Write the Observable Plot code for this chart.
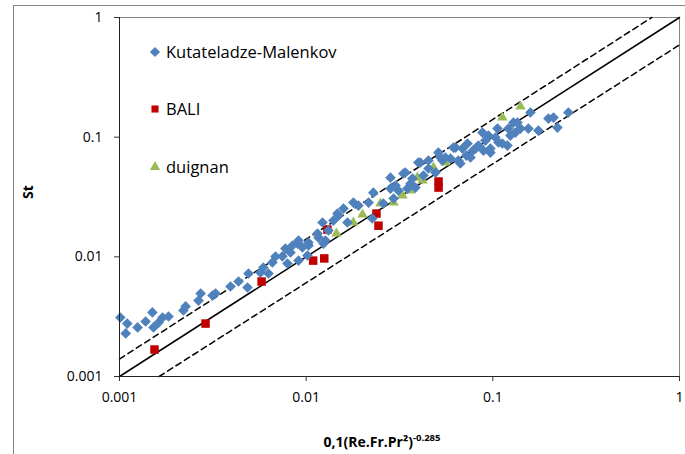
<!DOCTYPE html>
<html><head><meta charset="utf-8">
<script src="https://cdn.jsdelivr.net/npm/d3@7"></script>
<script src="https://cdn.jsdelivr.net/npm/@observablehq/plot@0.6"></script>
<style>
html,body{margin:0;padding:0;background:#fff;}
#chart{width:685px;height:454px;overflow:hidden;}
svg{display:block;}
</style></head><body><div id="chart"></div>
<script>
// ---- data ----
const seriesNames = ["Kutateladze-Malenkov", "BALI", "duignan"];
const seriesColors = ["#4F81BD", "#C00000", "#9BBB59"];

const kmX = [0.00101,0.00110,0.00108,0.00125,0.00138,0.00150,0.00152,0.00162,0.00170,0.00183,
  0.00220,0.00226,0.00265,0.00272,0.00315,0.00327,0.00434,0.00485,0.00491,0.00569,
  0.00590,0.00628,0.00685,0.00746,0.00774,0.00794,0.00898,0.00910,0.01016,0.01028,
  0.01164,0.01238,0.01223,0.01316,0.01471,0.01150,0.01400,0.01664,0.01791,0.0216,
  0.0226,0.0229,0.0259,0.0283,0.0283,0.0294,0.0312,0.0332,0.0362,0.0371,
  0.0385,0.0409,0.0425,0.0493,0.0511,0.0524,0.0593,0.0631,0.0688,0.0670,
  0.0731,0.0340,0.0349,0.0399,0.0452,0.0537,0.0557,0.0615,0.0654,0.0759,
  0.0807,0.0837,0.0880,0.0947,0.0971,0.1059,0.1072,0.1125,0.1197,0.1213,
  0.1242,0.1355,0.1321,0.159,0.155,0.1754,0.1986,0.2113,0.2218,0.254,
  0.0912,0.0971,0.1289,0.0149,0.01268,0.0103,0.0091,0.00845,0.078,
  0.01585,0.01905,0.0301,0.0452,0.0722,0.0891,0.1033,0.1406,0.00393,0.00659,0.00824,0.00955];
const kmY = [0.00311,0.00277,0.00229,0.00257,0.00288,0.00343,0.00257,0.00282,0.00311,0.00317,
  0.00356,0.00385,0.00431,0.00494,0.00475,0.00494,0.00622,0.00554,0.00725,0.00739,
  0.00814,0.00725,0.01007,0.0101,0.01173,0.00879,0.01291,0.00931,0.01026,0.01316,
  0.01449,0.01291,0.01936,0.0166,0.0230,0.01566,0.0201,0.01936,0.0284,0.0284,
  0.0209,0.0344,0.0279,0.0459,0.0372,0.0307,0.0358,0.0497,0.0409,0.0451,
  0.0379,0.0614,0.0478,0.0506,0.0743,0.0676,0.0662,0.0818,0.0803,0.0602,
  0.0885,0.0506,0.0372,0.0614,0.0547,0.0638,0.0676,0.0818,0.0638,0.0676,
  0.0803,0.0851,0.1092,0.1031,0.0803,0.118,0.0902,0.0885,0.0851,0.118,
  0.1031,0.1324,0.1092,0.1606,0.118,0.1135,0.143,0.1458,0.1203,0.1606,
  0.0937,0.0743,0.1324,0.0221,0.01368,0.01243,0.01368,0.01243,0.077,
  0.0253,0.0268,0.0394,0.0638,0.0702,0.0773,0.0993,0.118,0.00565,0.00896,0.01086,0.01196];

const baliX = [0.00154,0.00289,0.00577,0.0109,0.0125,0.013,0.0238,0.0244,0.0512,0.0512];
const baliY = [0.00168,0.00277,0.00622,0.0093,0.0097,0.0169,0.023,0.0182,0.0426,0.0379];

const duigX = [0.01453,0.0179,0.02003,0.025,0.0294,0.0328,0.0362,0.0394,0.042,0.0481,0.0557,0.1125,0.1406];
const duigY = [0.01566,0.01936,0.02256,0.0279,0.0284,0.0325,0.0358,0.0459,0.0434,0.0557,0.0614,0.1458,0.1803];

// reference lines (end points)
const solidX = [0.001, 1], solidY = [0.001, 1];
const upperX = [0.001, 0.71], upperY = [0.0014, 1];
const lowerX = [0.00163, 1], lowerY = [0.001, 0.59];

const tickValues = [0.001, 0.01, 0.1, 1];
const tickLabels = ["0.001", "0.01", "0.1", "1"];

const xTitle = "0,1(Re.Fr.Pr²)";
const xTitleSup = "-0.285";
const yTitle = "St";

// ---- build tables ----
const zip = (xs, ys) => xs.map((x, i) => ({x, y: ys[i]}));
const km = zip(kmX, kmY), bali = zip(baliX, baliY), duig = zip(duigX, duigY);
const fmt = d => tickLabels[tickValues.indexOf(d)];

const font = "'Open Sans', sans-serif";
const rKm = 4.8, rBali = 4.8, rDuig = 3.9;
const plot = Plot.plot({
  width: 685, height: 454,
  marginLeft: 119, marginRight: 6, marginTop: 17, marginBottom: 78,
  style: {fontFamily: font, fontSize: "14px", color: "#000", background: "#fff", overflow: "visible"},
  x: {type: "log", domain: [0.001, 1]},
  y: {type: "log", domain: [0.001, 1]},
  marks: [
    Plot.frame({stroke: "#868686"}),
    Plot.axisX(tickValues, {tickFormat: fmt, tickSize: 5, tickPadding: 11, label: null, fontSize: 14, stroke: "#333"}),
    Plot.axisY(tickValues, {tickFormat: fmt, tickSize: 5, tickPadding: 12, label: null, fontSize: 14, stroke: "#333"}),
    Plot.line(zip(lowerX, lowerY), {x: "x", y: "y", stroke: "#000", strokeWidth: 1.5, strokeDasharray: "6,4"}),
    Plot.line(zip(upperX, upperY), {x: "x", y: "y", stroke: "#000", strokeWidth: 1.5, strokeDasharray: "6,4"}),
    Plot.line(zip(solidX, solidY), {x: "x", y: "y", stroke: "#000", strokeWidth: 1.5}),
    Plot.dot(duig, {x: "x", y: "y", symbol: "triangle", r: rDuig, fill: seriesColors[2]}),
    Plot.dot(bali, {x: "x", y: "y", symbol: "square", r: rBali, fill: seriesColors[1]}),
    Plot.dot(km, {x: "x", y: "y", symbol: "diamond2", r: rKm, fill: seriesColors[0]}),
    Plot.ruleX([0.001], {stroke: "#222"}),
    Plot.ruleY([0.001], {stroke: "#222"})
  ]
});
document.getElementById("chart").appendChild(plot);

const svg = d3.select(plot);
// outer chart border
svg.append("rect").attr("x", 13.5).attr("y", 5.5).attr("width", 720).attr("height", 520)
  .attr("fill", "none").attr("stroke", "#868686");

// legend
const symbols = [d3.symbolDiamond2, d3.symbolSquare, d3.symbolTriangle];
const symR = [4.6, 4.0, 3.8];
const rows = [52, 109, 167];
seriesNames.forEach((name, i) => {
  svg.append("path").attr("transform", `translate(155,${rows[i]})`)
    .attr("d", d3.symbol(symbols[i], Math.PI * symR[i] * symR[i])()).attr("fill", seriesColors[i]);
  svg.append("text").attr("x", 166).attr("y", rows[i]).attr("dy", "0.35em").attr("text-anchor", "start")
    .attr("font-family", font).attr("font-size", 16.5).attr("fill", "#000").text(name);
});

// axis titles
const xt = svg.append("text").attr("x", 382).attr("y", 447).attr("text-anchor", "middle")
  .attr("font-family", font).attr("font-weight", "bold").attr("font-size", 14).attr("fill", "#000");
xt.append("tspan").text(xTitle);
xt.append("tspan").attr("dy", -6).attr("font-size", 9.5).text(xTitleSup);

svg.append("text").attr("transform", "translate(33,192) rotate(-90)").attr("text-anchor", "middle")
  .attr("font-family", font).attr("font-weight", "bold").attr("font-size", 14).attr("fill", "#000").text(yTitle);
</script></body></html>
